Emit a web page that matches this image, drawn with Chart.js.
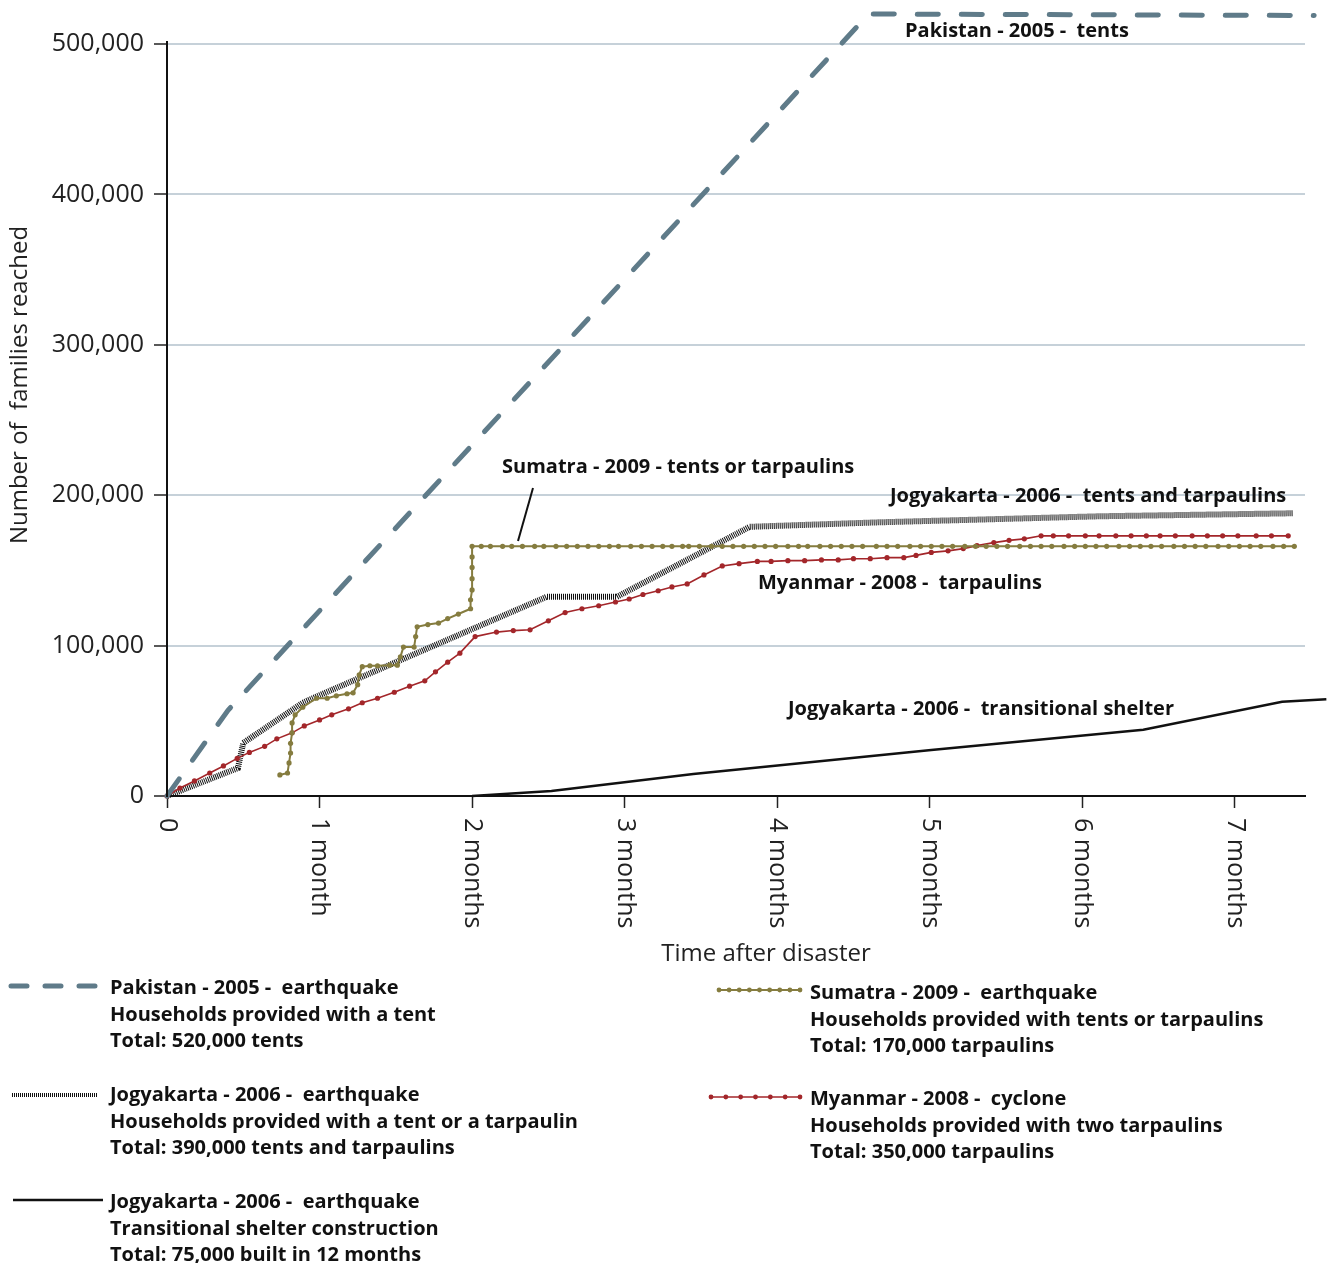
<!DOCTYPE html>
<html>
<head>
<meta charset="utf-8">
<title>Number of families reached after disaster</title>
<script src="https://cdn.jsdelivr.net/npm/chart.js@4.4.1/dist/chart.umd.min.js"></script>
<style>
  html, body { margin: 0; padding: 0; background: #fff; }
  #wrap { width: 1328px; height: 1263px; }
</style>
</head>
<body>
<div id="wrap"><canvas id="chart" width="1328" height="1263"></canvas></div>
<script>
// tick labels
const monthLabels = ['0', '1 month', '2 months', '3 months', '4 months', '5 months', '6 months', '7 months'];
const yTicks = [0, 100000, 200000, 300000, 400000, 500000];

// Pakistan 2005 - tents
const pakistanMonths = [0, 0.40, 4.60, 7.52];
const pakistanFamilies = [0, 57000, 520000, 519000];

// Jogyakarta 2006 - tents and tarpaulins
const jogyaTentMonths = [0, 0.465, 0.50, 0.89, 1.00, 2.49, 2.95, 3.82, 4.67, 6.11, 7.38];
const jogyaTentFamilies = [0, 18600, 35300, 62000, 67000, 132500, 132500, 179000, 182000, 186000, 188000];

// Jogyakarta 2006 - transitional shelter
const jogyaShelterMonths = [2.00, 2.52, 3.45, 5.01, 6.40, 7.31, 7.60];
const jogyaShelterFamilies = [0, 3300, 14600, 30600, 44000, 62600, 64300];

// Sumatra 2009 - tents or tarpaulins
const sumatraMonths = [
  0.74, 0.79, 0.80, 0.81, 0.81, 0.82, 0.82, 0.84, 0.89, 0.98, 1.05, 1.11, 1.18, 1.22,
  1.25, 1.26, 1.28, 1.33, 1.38, 1.46, 1.51, 1.53, 1.55, 1.62, 1.63, 1.64, 1.71, 1.78,
  1.84, 1.91, 1.99, 1.99, 2.00, 2.00, 2.00, 2.00, 2.00,
  2.06, 2.12, 2.20, 2.26, 2.33, 2.41, 2.47, 2.55, 2.62, 2.69, 2.76, 2.83, 2.90, 2.96,
  3.04, 3.11, 3.18, 3.25, 3.31, 3.38, 3.42, 3.49, 3.57, 3.64, 3.71, 3.78, 3.85, 3.92,
  3.99, 4.07, 4.14, 4.20, 4.28, 4.35, 4.42, 4.49, 4.56, 4.65, 4.72, 4.79, 4.87, 4.94,
  5.01, 5.08, 5.15, 5.23, 5.30, 5.37, 5.44, 5.51, 5.59, 5.66, 5.73, 5.80, 5.88, 5.95,
  6.02, 6.09, 6.16, 6.24, 6.31, 6.38, 6.45, 6.52, 6.60, 6.67, 6.74, 6.81, 6.89, 6.96,
  7.03, 7.10, 7.17, 7.25, 7.32, 7.39
];
const sumatraFamilies = [
  14000, 15300, 22000, 28600, 35000, 42000, 48600, 54000, 59000, 65000, 65000, 66600, 68000, 68600,
  74000, 80600, 86000, 86600, 86600, 87000, 87000, 92500, 99000, 99000, 106000, 112500, 114000, 115000,
  118000, 121000, 124500, 130500, 137000, 144500, 152000, 159000, 166000,
  166000, 166000, 166000, 166000, 166000, 166000, 166000, 166000, 166000, 166000, 166000, 166000, 166000, 166000,
  166000, 166000, 166000, 166000, 166000, 166000, 166000, 166000, 166000, 166000, 166000, 166000, 166000, 166000,
  166000, 166000, 166000, 166000, 166000, 166000, 166000, 166000, 166000, 166000, 166000, 166000, 166000, 166000,
  166000, 166000, 166000, 166000, 166000, 166000, 166000, 166000, 166000, 166000, 166000, 166000, 166000, 166000,
  166000, 166000, 166000, 166000, 166000, 166000, 166000, 166000, 166000, 166000, 166000, 166000, 166000, 166000,
  166000, 166000, 166000, 166000, 166000, 166000
];

// Myanmar 2008 - tarpaulins
const myanmarMonths = [
  0, 0.085, 0.18, 0.28, 0.37, 0.46, 0.54, 0.64, 0.72, 0.82, 0.90, 1.00, 1.08, 1.19, 1.28,
  1.38, 1.49, 1.59, 1.69, 1.76, 1.84, 1.92, 2.02, 2.16, 2.27, 2.38, 2.50, 2.61, 2.72, 2.83,
  2.94, 3.03, 3.12, 3.22, 3.31, 3.41, 3.52, 3.64, 3.75, 3.87, 3.96, 4.07, 4.18, 4.29, 4.40,
  4.50, 4.61, 4.72, 4.83, 4.91, 5.01, 5.12, 5.22, 5.31, 5.42, 5.52, 5.62, 5.73, 5.81, 5.91,
  6.02, 6.11, 6.22, 6.32, 6.42, 6.51, 6.61, 6.72, 6.82, 6.92, 7.02, 7.14, 7.24, 7.35
];
const myanmarFamilies = [
  0, 5300, 10000, 15300, 20000, 25000, 29000, 33000, 38000, 42000, 46600, 50600, 54000, 58000, 62000,
  65000, 69000, 73000, 76600, 82600, 89000, 95000, 106000, 109000, 110000, 110500, 116500, 122000, 124500, 126500,
  129000, 131000, 134000, 136500, 139000, 141000, 147000, 153000, 154500, 156000, 156000, 156500, 156500, 157000, 157000,
  157800, 157800, 158500, 158500, 160000, 162000, 163000, 164500, 166500, 168500, 170000, 171000, 173000, 173000, 173000,
  173000, 173000, 173000, 173000, 173000, 173000, 173000, 173000, 173000, 173000, 173000, 173000, 173000, 173000
];

const PAK = '#5f7b89';
const SUM = '#857c3f';
const MYA = '#a3262a';
const INK = '#111';
const FONT = '"Open Sans", "Noto Sans", sans-serif';

const pts = (xs, ys) => xs.map((x, i) => ({ x: x, y: ys[i] }));

// annotations + legend + custom axis text
const decor = {
  id: 'decor',
  afterDraw(chart) {
    const ctx = chart.ctx;
    const xs = chart.scales.x, ys = chart.scales.y;
    ctx.save();

    // y axis line (stops a little above 500,000)
    ctx.strokeStyle = INK;
    ctx.lineWidth = 2;
    ctx.beginPath();
    ctx.moveTo(xs.left, ys.getPixelForValue(0) + 1);
    ctx.lineTo(xs.left, ys.getPixelForValue(500000) - 3);
    ctx.stroke();

    // x tick labels, rotated clockwise
    ctx.fillStyle = '#222';
    ctx.font = '25px ' + FONT;
    ctx.textAlign = 'left';
    ctx.textBaseline = 'middle';
    monthLabels.forEach((lab, i) => {
      ctx.save();
      ctx.translate(xs.getPixelForValue(i), ys.bottom + 22);
      ctx.rotate(Math.PI / 2);
      ctx.fillText(lab, 0, 0);
      ctx.restore();
    });

    // axis titles
    ctx.font = '24px ' + FONT;
    ctx.textAlign = 'center';
    ctx.fillText('Time after disaster', 766, 954);
    ctx.save();
    ctx.translate(20, 385);
    ctx.rotate(-Math.PI / 2);
    ctx.fillText('Number of  families reached', 0, 0);
    ctx.restore();

    // line labels
    ctx.fillStyle = INK;
    ctx.font = 'bold 20px ' + FONT;
    ctx.textAlign = 'left';
    ctx.fillText('Pakistan - 2005 -  tents', 905, 31);
    ctx.fillText('Sumatra - 2009 - tents or tarpaulins', 502, 467);
    ctx.fillText('Jogyakarta - 2006 -  tents and tarpaulins', 890, 496);
    ctx.fillText('Myanmar - 2008 -  tarpaulins', 758, 583);
    ctx.fillText('Jogyakarta - 2006 -  transitional shelter', 788, 709);
    ctx.strokeStyle = INK;
    ctx.lineWidth = 2;
    ctx.beginPath();
    ctx.moveTo(533, 488);
    ctx.lineTo(518, 541);
    ctx.stroke();

    // legend text
    const legendText = [
      [110, 988, ['Pakistan - 2005 -  earthquake', 'Households provided with a tent', 'Total: 520,000 tents']],
      [110, 1095, ['Jogyakarta - 2006 -  earthquake', 'Households provided with a tent or a tarpaulin', 'Total: 390,000 tents and tarpaulins']],
      [110, 1202, ['Jogyakarta - 2006 -  earthquake', 'Transitional shelter construction', 'Total: 75,000 built in 12 months']],
      [810, 993, ['Sumatra - 2009 -  earthquake', 'Households provided with tents or tarpaulins', 'Total: 170,000 tarpaulins']],
      [810, 1099, ['Myanmar - 2008 -  cyclone', 'Households provided with two tarpaulins', 'Total: 350,000 tarpaulins']]
    ];
    legendText.forEach(([lx, ly, lines]) => {
      lines.forEach((t, k) => ctx.fillText(t, lx, ly + k * 26.8));
    });

    // legend samples
    ctx.lineCap = 'round';
    ctx.strokeStyle = PAK;
    ctx.lineWidth = 5;
    ctx.setLineDash([16, 18]);
    ctx.beginPath(); ctx.moveTo(11, 986); ctx.lineTo(97, 986); ctx.stroke();

    ctx.lineCap = 'butt';
    ctx.strokeStyle = INK;
    ctx.lineWidth = 4;
    ctx.setLineDash([1, 1]);
    ctx.beginPath(); ctx.moveTo(12, 1095); ctx.lineTo(97, 1095); ctx.stroke();

    ctx.setLineDash([]);
    ctx.lineWidth = 2.5;
    ctx.beginPath(); ctx.moveTo(13, 1200); ctx.lineTo(103, 1200); ctx.stroke();

    const dotted = (x0, x1, y, n, col, w) => {
      ctx.strokeStyle = col;
      ctx.fillStyle = col;
      ctx.lineWidth = w;
      ctx.beginPath(); ctx.moveTo(x0, y); ctx.lineTo(x1, y); ctx.stroke();
      for (let k = 0; k < n; k++) {
        ctx.beginPath();
        ctx.arc(x0 + (x1 - x0) * k / (n - 1), y, 2.4, 0, Math.PI * 2);
        ctx.fill();
      }
    };
    dotted(719, 800, 990, 9, SUM, 2);
    dotted(711, 800, 1097, 7, MYA, 1.6);

    ctx.restore();
  }
};

new Chart(document.getElementById('chart'), {
  type: 'line',
  data: {
    datasets: [
      {
        label: 'Pakistan - 2005 - tents',
        data: pts(pakistanMonths, pakistanFamilies),
        borderColor: PAK,
        borderWidth: 5,
        borderDash: [21, 23],
        borderCapStyle: 'round',
        pointRadius: 0,
        order: 0
      },
      {
        label: 'Sumatra - 2009 - tents or tarpaulins',
        data: pts(sumatraMonths, sumatraFamilies),
        borderColor: SUM,
        backgroundColor: SUM,
        borderWidth: 2,
        pointRadius: 2.6,
        pointBorderWidth: 0,
        pointBackgroundColor: SUM,
        order: 1
      },
      {
        label: 'Myanmar - 2008 - tarpaulins',
        data: pts(myanmarMonths, myanmarFamilies),
        borderColor: MYA,
        backgroundColor: MYA,
        borderWidth: 1.6,
        pointRadius: 2.6,
        pointBorderWidth: 0,
        pointBackgroundColor: MYA,
        order: 2
      },
      {
        label: 'Jogyakarta - 2006 - transitional shelter',
        data: pts(jogyaShelterMonths, jogyaShelterFamilies),
        borderColor: INK,
        borderWidth: 2.5,
        pointRadius: 0,
        order: 3
      },
      {
        label: 'Jogyakarta - 2006 - tents and tarpaulins',
        data: pts(jogyaTentMonths, jogyaTentFamilies),
        borderColor: INK,
        borderWidth: 6,
        borderDash: [1, 1],
        borderCapStyle: 'butt',
        pointRadius: 0,
        order: 4
      }
    ]
  },
  options: {
    responsive: false,
    animation: false,
    clip: false,
    layout: { autoPadding: false, padding: { left: 0, top: 14, right: 23, bottom: 0 } },
    plugins: { legend: { display: false }, tooltip: { enabled: false } },
    scales: {
      x: {
        type: 'linear',
        min: 0,
        max: 7.46,
        afterBuildTicks: s => { s.ticks = monthLabels.map((l, i) => ({ value: i })); },
        afterFit: s => { s.height = 1263 - 796; s.paddingLeft = 0; s.paddingRight = 0; },
        border: { display: true, color: INK, width: 2 },
        grid: { drawOnChartArea: false, drawTicks: true, tickLength: 12, tickColor: '#222', tickWidth: 1.5 },
        ticks: { display: false }
      },
      y: {
        min: 0,
        max: 520000,
        afterBuildTicks: s => { s.ticks = yTicks.map(v => ({ value: v })); },
        afterFit: s => { s.width = 167; s.paddingTop = 0; s.paddingBottom = 0; },
        border: { display: false },
        grid: {
          color: c => (c.tick && c.tick.value === 0 ? 'rgba(0,0,0,0)' : '#c6d1d9'),
          lineWidth: 2,
          tickColor: '#222',
          tickLength: 13,
          tickWidth: 1.5
        },
        ticks: {
          font: { family: FONT, size: 25 },
          color: '#222',
          padding: 10,
          callback: v => v.toLocaleString('en-US')
        }
      }
    }
  },
  plugins: [decor]
});
</script>
</body>
</html>
